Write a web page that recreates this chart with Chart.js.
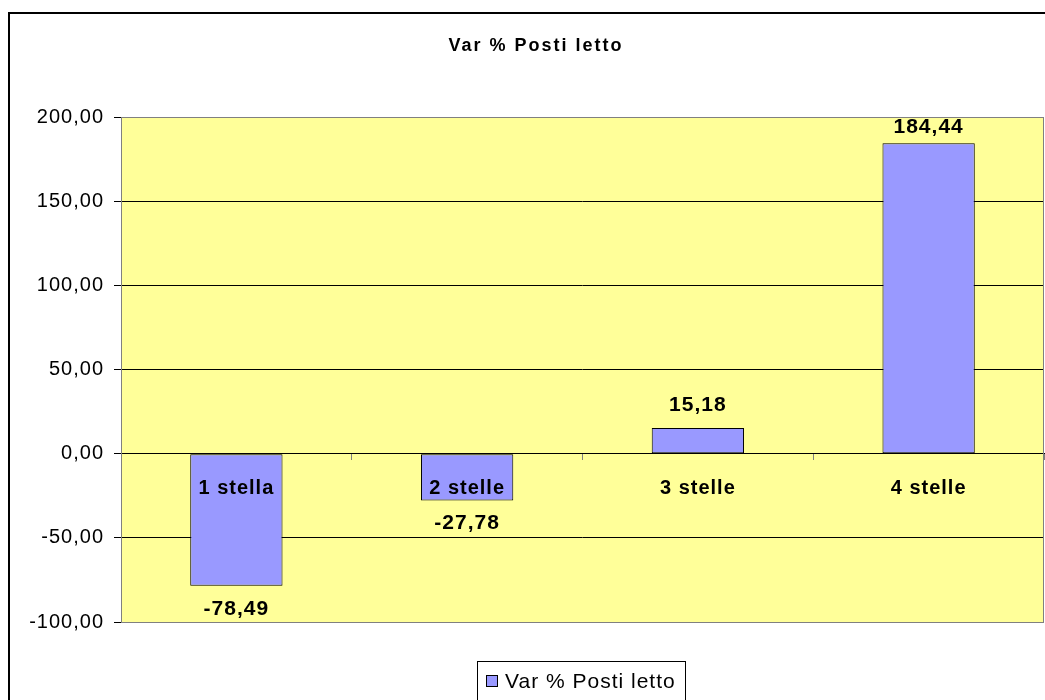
<!DOCTYPE html>
<html>
<head>
<meta charset="utf-8">
<title>Var % Posti letto</title>
<script src="https://cdn.jsdelivr.net/npm/chart.js@4.4.1/dist/chart.umd.min.js"></script>
<style>
  html, body { margin: 0; padding: 0; background: #fff; }
  #wrap { width: 1045px; height: 700px; }
</style>
</head>
<body>
<div id="wrap"><canvas id="postiChart"></canvas></div>
<script>
const chartTitle = "Var % Posti letto";
const seriesLabel = "Var % Posti letto";
const categories = ["1 stella", "2 stelle", "3 stelle", "4 stelle"];
const values = [-78.49, -27.78, 15.18, 184.44];
const yMin = -100;
const yMax = 200;
const yStep = 50;

const FONT = "'Liberation Sans', Arial, sans-serif";

// numbers with comma as decimal separator
function fmt(v) {
  return v.toFixed(2).replace(".", ",");
}

// white page, outer frame and yellow plot area
const backgroundPlugin = {
  id: "background",
  beforeDraw(chart) {
    const { ctx, chartArea } = chart;
    ctx.save();
    ctx.fillStyle = "#ffffff";
    ctx.fillRect(0, 0, chart.width, chart.height);
    ctx.strokeStyle = "#000000";
    ctx.lineWidth = 2;
    ctx.strokeRect(9, 13, chart.width + 40, chart.height + 40);
    ctx.fillStyle = "#FFFF99";
    ctx.fillRect(chartArea.left, chartArea.top, chartArea.right - chartArea.left, chartArea.bottom - chartArea.top);
    ctx.restore();
    ctx.letterSpacing = "1px";
  },
};

// gray border round the plot area, title, value labels, legend
const decorPlugin = {
  id: "decor",
  afterDatasetsDraw(chart) {
    const { ctx, chartArea } = chart;
    const meta = chart.getDatasetMeta(0);
    ctx.save();
    ctx.letterSpacing = "1px";
    ctx.font = "bold 21px " + FONT;
    ctx.fillStyle = "#000";
    ctx.textAlign = "center";
    ctx.textBaseline = "middle";
    meta.data.forEach((bar, i) => {
      const v = chart.data.datasets[0].data[i];
      let y;
      if (v >= 0) {
        y = Math.max(bar.y - 23, chartArea.top + 10);
      } else {
        y = bar.y + 23;
      }
      ctx.fillText(fmt(v), bar.x, y);
    });
    ctx.restore();
  },
  afterDraw(chart) {
    const { ctx, chartArea } = chart;
    ctx.save();
    ctx.strokeStyle = "#808080";
    ctx.lineWidth = 1;
    ctx.strokeRect(chartArea.left + 0.5, chartArea.top + 0.5, chartArea.right - chartArea.left - 1, chartArea.bottom - chartArea.top);

    // title
    ctx.letterSpacing = "2px";
    ctx.font = "bold 18px " + FONT;
    ctx.fillStyle = "#000";
    ctx.textAlign = "center";
    ctx.textBaseline = "middle";
    ctx.fillText(chartTitle, 536, 46);

    // legend
    ctx.letterSpacing = "1px";
    ctx.strokeStyle = "#000";
    ctx.strokeRect(477.5, 661.5, 208, 50);
    ctx.fillStyle = chart.data.datasets[0].backgroundColor;
    ctx.fillRect(486, 675, 12, 12);
    ctx.strokeRect(486.5, 675.5, 11, 11);
    ctx.fillStyle = "#000";
    ctx.textAlign = "left";
    ctx.font = "21px " + FONT;
    ctx.fillText(chart.data.datasets[0].label, 505, 682);
    ctx.restore();
  },
};

const ctx = document.getElementById("postiChart").getContext("2d");

new Chart(ctx, {
  type: "bar",
  data: {
    labels: categories,
    datasets: [
      {
        label: seriesLabel,
        data: values,
        backgroundColor: "#9999FF",
        borderColor: "#000000",
        borderWidth: 1,
        borderSkipped: false,
        barPercentage: 0.4,
        categoryPercentage: 1,
      },
    ],
  },
  options: {
    responsive: true,
    maintainAspectRatio: false,
    animation: false,
    layout: {
      padding: { top: 117, bottom: 78, left: 0, right: 1 },
    },
    scales: {
      x: {
        type: "category",
        position: { y: 0 },
        grid: {
          drawOnChartArea: false,
          drawTicks: true,
          tickLength: 6,
          tickColor: "#808080",
          offset: true,
        },
        border: { display: true, color: "#000000", width: 1, z: 1 },
        ticks: {
          z: 1, // labels on top of the bars
          color: "#000000",
          font: { family: FONT, size: 20, weight: "bold" },
          padding: 17,
          maxRotation: 0,
        },
      },
      y: {
        min: yMin,
        max: yMax,
        ticks: {
          stepSize: yStep,
          color: "#000000",
          font: { family: FONT, size: 20 },
          padding: 10,
          callback: (v) => fmt(v),
        },
        grid: {
          color: "#000000",
          tickColor: "#000000",
          tickLength: 7,
        },
        border: { display: false },
        afterFit(scale) {
          scale.width = 121;
        },
      },
    },
    plugins: {
      legend: { display: false },
      title: { display: false },
      tooltip: { enabled: false },
    },
  },
  plugins: [backgroundPlugin, decorPlugin],
});
</script>
</body>
</html>
